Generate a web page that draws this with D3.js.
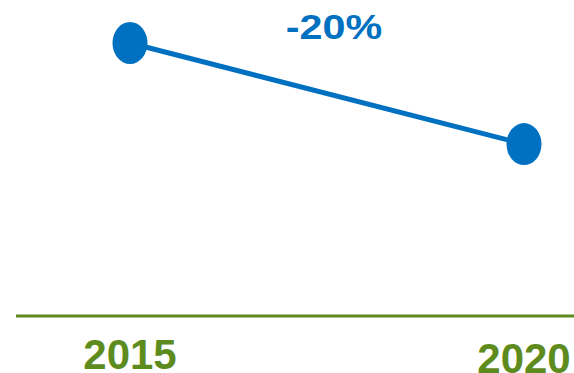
<!DOCTYPE html>
<html>
<head>
<meta charset="utf-8">
<script src="https://d3js.org/d3.v7.min.js"></script>
<style>
  html, body { margin: 0; padding: 0; background: #fff; }
  svg { display: block; }
  text { font-family: "Liberation Sans", Arial, sans-serif; font-weight: bold; }
</style>
</head>
<body>
<div id="chart"></div>
<script>
// chart data
const years = ['2015', '2020'];
const values = [100, 80];
const changeLabel = '-20%';

const width = 574, height = 373;
const blue = '#0070C0', green = '#5E8B1E';

const svg = d3.select('#chart').append('svg')
    .attr('width', width)
    .attr('height', height);

const x = d3.scalePoint().domain(years).range([130, 524]);
const y = d3.scaleLinear().domain([46, 100]).range([316, 43]);

// baseline
svg.append('line')
    .attr('x1', 16).attr('x2', width)
    .attr('y1', y(46)).attr('y2', y(46))
    .attr('stroke', green)
    .attr('stroke-width', 3);

// year labels
svg.append('g')
    .selectAll('text')
    .data(years)
    .join('text')
    .attr('x', d => x(d))
    .attr('y', (d, i) => i === 0 ? 369 : 373)
    .attr('text-anchor', 'middle')
    .attr('font-size', 42)
    .attr('fill', green)
    .text(d => d);

const pts = years.map((d, i) => ({ year: d, value: values[i] }));

svg.append('path')
    .datum(pts)
    .attr('fill', 'none')
    .attr('stroke', blue)
    .attr('stroke-width', 5)
    .attr('d', d3.line().x(d => x(d.year)).y(d => y(d.value)));

svg.append('g')
    .selectAll('ellipse')
    .data(pts)
    .join('ellipse')
    .attr('cx', d => x(d.year))
    .attr('cy', d => y(d.value))
    .attr('rx', 17.5)
    .attr('ry', 21)
    .attr('fill', blue);

// change annotation, stretched a bit wider like the original
svg.append('text')
    .attr('transform', 'translate(334,39) scale(1.18,1)')
    .attr('text-anchor', 'middle')
    .attr('font-size', 35)
    .attr('fill', blue)
    .text(changeLabel);
</script>
</body>
</html>
